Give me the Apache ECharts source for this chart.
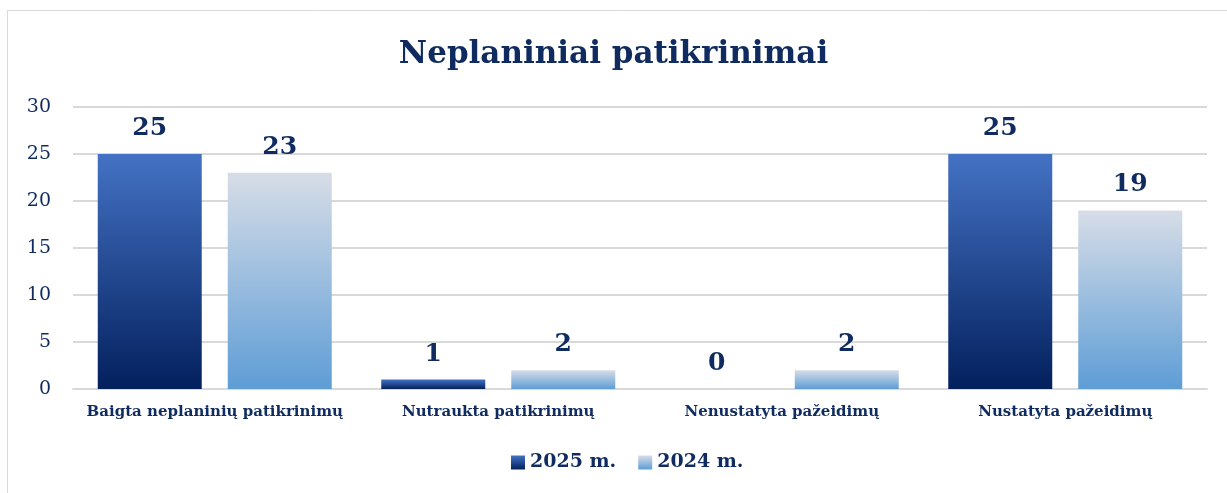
<!DOCTYPE html>
<html>
<head>
<meta charset="utf-8">
<script src="https://cdn.jsdelivr.net/npm/echarts@6/dist/echarts.min.js"></script>
<style>
  html, body { margin: 0; padding: 0; background: #fff; }
  #chart { width: 1227px; height: 493px; }
</style>
</head>
<body>
<div id="chart"></div>
<script>
// duomenys
const categories = ['Baigta neplaninių patikrinimų', 'Nutraukta patikrinimų', 'Nenustatyta pažeidimų', 'Nustatyta pažeidimų'];
const values2025 = [25, 1, 0, 25];
const values2024 = [23, 2, 2, 19];
const seriesNames = ['2025 m.', '2024 m.'];

const navy = '#0F2B5F';
const font = 'DejaVu Serif';

const grad = (top, bottom) => new echarts.graphic.LinearGradient(0, 0, 0, 1, [
    { offset: 0, color: top },
    { offset: 1, color: bottom }
]);

let myChart = echarts.init(document.getElementById('chart'));

const labelStyle = {
    show: true,
    position: 'top',
    distance: 13,
    color: navy,
    fontFamily: font,
    fontWeight: 'bold',
    fontSize: 25
};

let option = {
    animation: false,
    textStyle: { fontFamily: font },
    graphic: [{
        type: 'rect',
        shape: { x: 7.5, y: 10.5, width: 1240, height: 500 },
        style: { fill: 'none', stroke: '#D9D9D9', lineWidth: 1 },
        silent: true
    }],
    title: {
        text: 'Neplaniniai patikrinimai',
        left: 'center',
        top: 34,
        textStyle: { color: navy, fontFamily: font, fontWeight: 'bold', fontSize: 31 }
    },
    legend: {
        bottom: 16,
        left: 506,
        itemWidth: 14,
        itemHeight: 14,
        itemGap: 22,
        icon: 'rect',
        data: seriesNames,
        textStyle: { color: navy, fontFamily: font, fontWeight: 'bold', fontSize: 19 }
    },
    grid: { left: 73, right: 20, top: 107, bottom: 104 },
    xAxis: {
        type: 'category',
        data: categories,
        axisTick: { show: false },
        axisLine: { lineStyle: { color: '#D9D9D9', width: 2 } },
        axisLabel: {
            interval: 0,
            color: navy,
            fontFamily: font,
            fontWeight: 'bold',
            fontSize: 15,
            margin: 16
        }
    },
    yAxis: {
        type: 'value',
        min: 0,
        max: 30,
        interval: 5,
        axisLine: { show: false },
        axisTick: { show: false },
        splitLine: { lineStyle: { color: '#D9D9D9', width: 2 } },
        axisLabel: { color: navy, fontFamily: font, fontSize: 19, margin: 22 }
    },
    series: [{
        name: seriesNames[0],
        type: 'bar',
        data: values2025,
        barWidth: 104,
        barGap: '25%',
        itemStyle: { color: grad('#4472C4', '#03205D') },
        label: labelStyle
    }, {
        name: seriesNames[1],
        type: 'bar',
        data: values2024,
        barWidth: 104,
        itemStyle: { color: grad('#D7DDE7', '#5E9DD6') },
        label: labelStyle
    }]
};

myChart.setOption(option);
</script>
</body>
</html>
